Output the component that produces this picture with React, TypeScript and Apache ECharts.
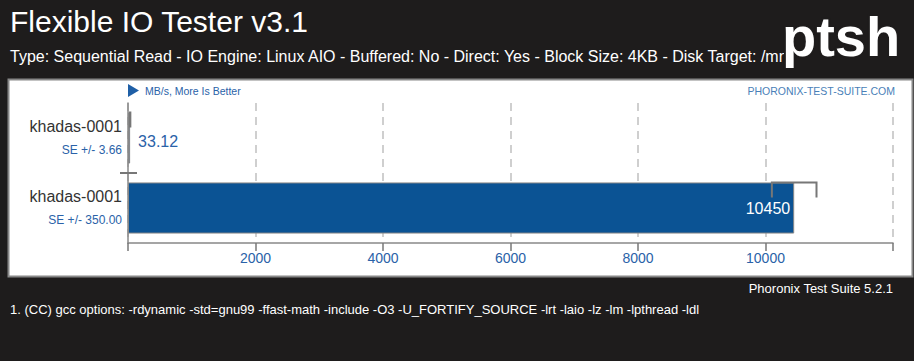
import React, { useEffect, useRef } from "react";
import * as echarts from "echarts";

const systems = ["khadas-0001", "khadas-0001"];
const values = [33.12, 10450];
const stdErrors = [3.66, 350.0];
const seLabels = ["3.66", "350.00"];
const xTicks = [2000, 4000, 6000, 8000, 10000];

const TITLE = "Flexible IO Tester v3.1";
const SUBTITLE =
  "Type: Sequential Read - IO Engine: Linux AIO - Buffered: No - Direct: Yes - Block Size: 4KB - Disk Target: /mnt";
const UNITS = "MB/s, More Is Better";
const SITE = "PHORONIX-TEST-SUITE.COM";
const VERSION = "Phoronix Test Suite 5.2.1";
const NOTE =
  "1. (CC) gcc options: -rdynamic -std=gnu99 -ffast-math -include -O3 -U_FORTIFY_SOURCE -lrt -laio -lz -lm -lpthread -ldl";

const BLUE = "#2a62a8";
const BAR = "#0b5394";
const DARK = "#1e1c1c";
const FONT = "Liberation Sans, Arial, sans-serif";

export default function App() {
  const ref = useRef<HTMLDivElement>(null);
  useEffect(() => {
    if (!ref.current) return;
    const chart = echarts.init(ref.current, null, { renderer: "svg" });
    const cats = systems.map((_, i) => String(i));
    chart.setOption({
      animation: false,
      backgroundColor: DARK,
      textStyle: { fontFamily: FONT },
      grid: { left: 128, top: 103, width: 765, height: 140, containLabel: false },
      xAxis: {
        type: "value",
        min: 0,
        max: 12000,
        interval: 2000,
        axisLine: { show: true, lineStyle: { color: "#888", width: 1.5 } },
        axisTick: { show: true, length: 8, lineStyle: { color: "#777", width: 1.5 } },
        axisLabel: {
          color: BLUE,
          fontSize: 14,
          margin: 8,
          formatter: (v: number) => (xTicks.includes(v) ? String(v) : ""),
        },
        splitLine: {
          show: true,
          lineStyle: { color: "#c0c0c0", type: [8, 6], width: 1.5 },
        },
      },
      yAxis: {
        type: "category",
        inverse: true,
        data: cats,
        axisLine: { show: true, lineStyle: { color: "#888", width: 1.5 } },
        axisTick: { show: false },
        axisLabel: {
          margin: 6,
          formatter: (v: string) => {
            const i = Number(v);
            return `{n|${systems[i]}}\n{s|SE +/- ${seLabels[i]}}`;
          },
          rich: {
            n: { fontSize: 16, color: "#333", lineHeight: 24, align: "right", fontFamily: FONT },
            s: { fontSize: 12, color: BLUE, lineHeight: 24, align: "right", fontFamily: FONT },
          },
        },
      },
      series: [
        {
          type: "bar",
          barWidth: "73%",
          itemStyle: { color: BAR, borderColor: "#888", borderWidth: 1 },
          data: values.map((v, i) => ({
            value: v,
            label:
              i === 0
                ? { show: true, position: "right", color: BLUE, fontSize: 16, distance: 8, offset: [0, 3] }
                : { show: true, position: "insideRight", color: "#fff", fontSize: 16, distance: 4 },
          })),
          label: { formatter: (p: any) => String(p.value) },
          z: 2,
        },
        {
          type: "custom",
          data: values.map((v, i) => [v, stdErrors[i], i]),
          encode: { x: 0, y: 2 },
          z: 5,
          renderItem: (params: any, api: any) => {
            const v = api.value(0);
            const se = api.value(1);
            const idx = api.value(2);
            const lo = api.coord([v - se, idx]);
            const hi = api.coord([v + se, idx]);
            const base = api.coord([0, idx]);
            const bandH = api.size([0, 1])[1];
            const top = lo[1] - (bandH * 0.73) / 2;
            const children: any[] = [
              {
                type: "polyline",
                shape: {
                  points: [
                    [lo[0], top + 15],
                    [lo[0], top],
                    [hi[0], top],
                    [hi[0], top + 15],
                  ],
                },
                style: { stroke: "#777", lineWidth: 2, fill: "none" },
              },
            ];
            if (idx > 0) {
              const sy = base[1] - bandH / 2;
              children.push({
                type: "line",
                shape: { x1: base[0] - 8, y1: sy, x2: base[0] + 9, y2: sy },
                style: { stroke: "#777", lineWidth: 2 },
              });
            }
            return { type: "group", children };
          },
        },
      ],
      graphic: [
        {
          type: "rect",
          z: -10,
          silent: true,
          shape: { x: 8.5, y: 79.5, width: 904, height: 197 },
          style: { fill: "#fff", stroke: "#888", lineWidth: 2 },
        },
        {
          type: "text",
          x: 10,
          y: 6,
          style: { text: TITLE, fill: "#fff", fontSize: 30, fontFamily: FONT },
        },
        {
          type: "text",
          x: 10,
          y: 48,
          style: { text: SUBTITLE, fill: "#fff", fontSize: 16, fontFamily: FONT },
        },
        {
          type: "text",
          x: 782,
          y: 8,
          style: {
            text: "ptsh",
            fill: "#fff",
            fontSize: 56,
            fontWeight: "bold",
            fontFamily: FONT,
            stroke: DARK,
            lineWidth: 4,
          },
        },
        {
          type: "polygon",
          shape: { points: [[128, 84], [128, 97], [139, 90.5]] },
          style: { fill: "#1f5fa6" },
        },
        {
          type: "text",
          x: 145,
          y: 85,
          style: { text: UNITS, fill: BLUE, fontSize: 10.5, fontFamily: FONT },
        },
        {
          type: "text",
          x: 895,
          y: 85,
          style: { text: SITE, fill: "#4a7fb8", fontSize: 10.5, fontFamily: FONT, align: "right" },
        },
        {
          type: "text",
          x: 893,
          y: 282,
          style: { text: VERSION, fill: "#fff", fontSize: 13, fontFamily: FONT, align: "right" },
        },
        {
          type: "text",
          x: 10,
          y: 303,
          style: { text: NOTE, fill: "#fff", fontSize: 13, fontFamily: FONT },
        },
      ],
    });
    return () => chart.dispose();
  }, []);
  return (
    <div
      ref={ref}
      style={{ position: "absolute", left: 0, top: 0, width: 914, height: 361 }}
    />
  );
}
